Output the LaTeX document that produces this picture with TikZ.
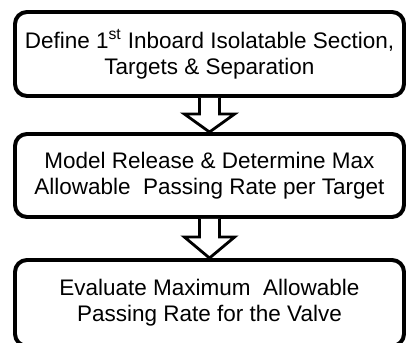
\documentclass[tikz,border=0pt]{standalone}
\usepackage{fontspec}
\setmainfont{Liberation Sans}
\usetikzlibrary{calc}
\tikzset{
	stepbox/.style={draw, line width=2.8pt, rounded corners=0.3cm, align=center,
		font=\fontsize{16}{18.5}\selectfont, inner sep=0pt},
	blockarrow/.style={draw, fill=white, line width=2pt, line join=miter}
}
\begin{document}
\begin{tikzpicture}
	\useasboundingbox (0,0) rectangle (10.15,8.575);
	\node[stepbox, minimum width=9.725cm, minimum height=2.1cm] (def) at (5.2375,7.225)
		{Define 1\textsuperscript{st} Inboard Isolatable Section,\\Targets \& Separation};
	\node[stepbox, minimum width=9.725cm, minimum height=2.075cm] (mod) at (5.2375,4.1875)
		{Model Release \& Determine Max\\Allowable~ Passing Rate per Target};
	\node[stepbox, minimum width=9.725cm, minimum height=2.15cm] (eva) at (5.2375,1.0)
		{Evaluate Maximum~ Allowable\\Passing Rate for the Valve};
	% arrows between the steps
	\draw[blockarrow] ($(def.south)+(-0.25,0)$) -- ($(def.south)+(-0.25,-0.4)$)
		-- ($(def.south)+(-0.63,-0.4)$) -- (mod.north) -- ($(def.south)+(0.63,-0.4)$)
		-- ($(def.south)+(0.25,-0.4)$) -- ($(def.south)+(0.25,0)$);
	\draw[blockarrow] ($(mod.south)+(-0.25,0)$) -- ($(mod.south)+(-0.25,-0.45)$)
		-- ($(mod.south)+(-0.63,-0.45)$) -- (eva.north) -- ($(mod.south)+(0.63,-0.45)$)
		-- ($(mod.south)+(0.25,-0.45)$) -- ($(mod.south)+(0.25,0)$);
\end{tikzpicture}
\end{document}
